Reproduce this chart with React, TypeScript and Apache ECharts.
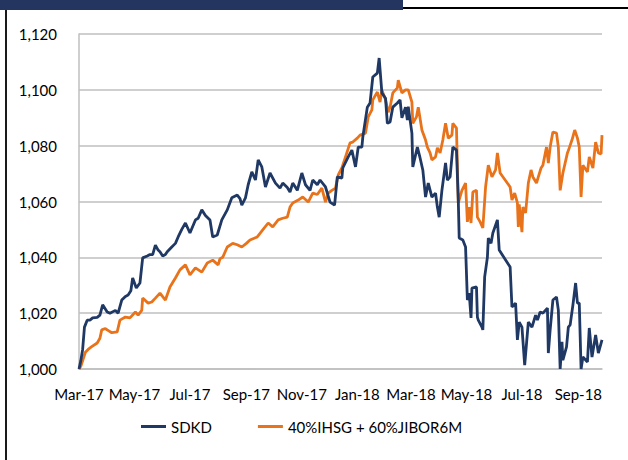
import React, { useEffect, useRef } from "react";
import * as echarts from "echarts";

// Start date of the index series (day offsets below are counted from it)
const START_DATE = "2017-03-01";
const END_DAY = 575;

const seriesNames = ["SDKD", "40%IHSG + 60%JIBOR6M"];

// [day offset from START_DATE, value]
const sdkd: [number, number][] = [
  [0,1000],[2,1003],[4,1007],[6,1015],[9,1017.5],[12,1017.5],[15,1018.3],[20,1018.5],[23,1019.3],[26,1023],
  [31,1020.4],[34,1020],[40,1021],[43,1020],[47,1024.7],[51,1026],[54,1026.5],[57,1028],[59,1032.6],[63,1029],
  [67,1030.8],[70,1039.8],[75,1040.5],[78,1041],[81,1041],[84,1044.4],[87,1042.6],[89,1042],[92,1040.5],[95,1041],
  [97,1042],[102,1043.7],[106,1045],[109,1047.3],[113,1050],[117,1052.3],[122,1048.7],[128,1053.4],[131,1054],[135,1057],
  [139,1055],[144,1053.4],[147,1047.3],[152,1048],[157,1053.4],[163,1057],[168,1061.3],[174,1062.3],[177,1061],[179,1058.7],
  [183,1061.3],[186,1066],[190,1070.6],[194,1067.7],[197,1074.9],[201,1072.4],[205,1065.2],[210,1070.2],[216,1066.6],[221,1064.8],
  [224,1066.6],[229,1065],[232,1063.4],[235,1066.6],[240,1064],[245,1070.2],[249,1066],[254,1064],[257,1067.7],[262,1066],
  [265,1067.7],[271,1065.2],[276,1059.8],[281,1058.7],[284,1068.8],[289,1068.4],[290,1072],[296,1076],[300,1078.4],[304,1072.4],
  [307,1079.5],[311,1079.5],[312,1083],[317,1093.8],[320,1095.3],[323,1104.6],[328,1106],[330,1111.4],[333,1098.9],[337,1097],
  [339,1088],[342,1088.5],[345,1093.8],[350,1095.3],[353,1096.4],[355,1090],[359,1093.8],[361,1089.2],[362,1094],[366,1084.5],
  [367,1072.4],[372,1079.5],[375,1075.6],[378,1071.3],[381,1061.6],[384,1066.6],[388,1061.6],[392,1063],[394,1058],[396,1054.4],
  [399,1064],[403,1073.8],[405,1067.7],[408,1068.8],[411,1079.5],[415,1078.4],[417,1060.5],[418,1046.9],[422,1046.2],[425,1043.7],
  [427,1024.7],[429,1027.2],[431,1018.3],[432,1029],[437,1029.4],[438,1018.6],[439,1017.5],[443,1015],[444,1014],[446,1033],
  [449,1040],[450,1046.9],[453,1045],[455,1048.7],[460,1053.4],[462,1042.6],[474,1036.5],[476,1022.2],[480,1023.6],[482,1010.4],
  [484,1016.8],[487,1015],[490,1001.4],[494,1016.8],[498,1015],[502,1019.3],[504,1017.5],[507,1020.4],[510,1020],[515,1021.8],
  [516,1005.7],[518,1014],[521,1024.7],[525,1025.8],[527,1021.1],[529,1000],[531,1009.7],[532,1003.2],[536,1007.9],[538,1015],
  [540,1015.8],[543,1022.9],[546,1030.8],[548,1023.6],[550,1023.6],[552,1000],[554,1004.3],[559,1002.5],[561,1014.7],[564,1004.3],
  [568,1012.2],[571,1005.7],[575,1010.4]
];

const benchmark: [number, number][] = [
  [0,1000],[2,1001],[7,1006],[10,1007],[14,1008],[20,1009.3],[23,1011],[25,1014],[29,1014.5],[31,1014],
  [36,1013],[42,1013.3],[45,1017.5],[51,1018.6],[56,1018.3],[62,1020.4],[65,1019.3],[69,1021],[70,1025.4],[76,1023.6],
  [80,1024],[84,1025.4],[89,1027.2],[95,1024.7],[100,1029.4],[106,1032.6],[111,1035.5],[117,1037.3],[122,1033.7],[128,1036.2],
  [135,1034.7],[141,1038],[147,1039],[153,1037.3],[155,1039.5],[158,1040],[163,1043.7],[169,1045],[174,1044.5],[179,1043.7],
  [184,1045],[188,1046.2],[196,1047.3],[202,1049.8],[208,1052.3],[213,1050.9],[219,1053.4],[224,1054],[229,1054.4],[232,1058],
  [235,1059.5],[241,1060.5],[246,1061.6],[252,1059.8],[257,1063],[262,1062.5],[267,1064.8],[271,1059.8],[274,1063],[278,1064],
  [282,1064.8],[285,1069.5],[289,1072],[293,1076],[298,1081],[301,1081.3],[306,1082.7],[309,1083.8],[315,1084.5],[318,1090.3],
  [322,1092.8],[323,1096.4],[328,1099.2],[331,1095.6],[333,1099.9],[337,1096.4],[340,1092],[342,1093.8],[345,1098.9],[350,1100.7],
  [351,1103.5],[355,1098.9],[359,1100],[362,1100],[366,1095.6],[367,1088],[371,1090.3],[373,1093.8],[377,1085.6],[381,1082],
  [383,1079.5],[386,1077.4],[388,1074.9],[392,1076],[394,1079.2],[397,1077.4],[400,1082],[403,1088],[406,1082.7],[410,1083.8],
  [411,1088],[415,1086.3],[417,1059.5],[421,1064],[425,1066.6],[427,1052.7],[429,1058],[431,1052.3],[433,1063.4],[437,1064],
  [438,1054.4],[441,1052.7],[444,1050.5],[447,1065.2],[450,1073],[454,1068.8],[458,1071.3],[460,1077.4],[463,1070.2],[474,1065.2],
  [476,1060.5],[479,1063],[482,1059.5],[483,1050.9],[484,1059],[487,1049],[488,1058],[491,1055.9],[494,1066.6],[497,1071.3],
  [499,1068.8],[503,1066.6],[505,1068.8],[508,1072],[510,1073],[514,1079.5],[516,1073.8],[518,1079.5],[521,1084.9],[525,1084.5],
  [527,1079.5],[529,1064],[532,1070.2],[537,1077.4],[539,1079.2],[542,1082],[545,1085.6],[548,1082.7],[550,1079.5],[552,1061.6],
  [554,1073],[559,1070.6],[561,1076],[565,1072],[568,1081.3],[571,1077.4],[574,1077],[575,1083.8]
];

const tickDates = [
  "2017-03-01","2017-05-01","2017-07-01","2017-09-01","2017-11-01",
  "2018-01-01","2018-03-01","2018-05-01","2018-07-01","2018-09-01"
];
const tickLabels = [
  "Mar-17","May-17","Jul-17","Sep-17","Nov-17",
  "Jan-18","Mar-18","May-18","Jul-18","Sep-18"
];

const yMin = 1000;
const yMax = 1120;
const yStep = 20;

const DAY_MS = 86400000;
const toTs = (s: string) => {
  const [y, m, d] = s.split("-").map(Number);
  return Date.UTC(y, m - 1, d);
};

export default function App() {
  const ref = useRef<HTMLDivElement>(null);

  useEffect(() => {
    if (!ref.current) return;
    const chart = echarts.init(ref.current, null, { renderer: "svg" });
    const start = toTs(START_DATE);
    const tickDays = tickDates.map((s) => Math.round((toTs(s) - start) / DAY_MS));
    const font = "Lato, 'Open Sans', sans-serif";

    chart.setOption({
      animation: false,
      backgroundColor: "#ffffff",
      textStyle: { fontFamily: font },
      grid: { left: 79, right: 26, top: 34, bottom: 91, containLabel: false },
      xAxis: {
        type: "value",
        min: 0,
        max: END_DAY,
        axisLine: { show: true, onZero: false, lineStyle: { color: "#bfbfbf", width: 1.5 } },
        axisTick: { show: false, customValues: tickDays },
        splitLine: { show: false },
        axisLabel: {
          customValues: tickDays,
          margin: 17,
          color: "#000000",
          fontSize: 15,
          fontFamily: font,
          hideOverlap: false,
          formatter: (val: number) => {
            const i = tickDays.indexOf(Math.round(val));
            return i >= 0 ? tickLabels[i] : "";
          },
        },
      },
      yAxis: {
        type: "value",
        min: yMin,
        max: yMax,
        interval: yStep,
        axisLine: { show: true, lineStyle: { color: "#bfbfbf", width: 1.5 } },
        axisTick: { show: false },
        splitLine: { show: true, lineStyle: { color: "#bfbfbf", width: 1.5 } },
        axisLabel: {
          margin: 22,
          color: "#000000",
          fontSize: 15,
          fontFamily: font,
          formatter: (v: number) => v.toLocaleString("en-US"),
        },
      },
      legend: {
        left: 136,
        top: 414,
        icon: "rect",
        itemWidth: 25,
        itemHeight: 3,
        itemGap: 46,
        textStyle: { color: "#000000", fontSize: 15, fontFamily: font },
        data: seriesNames,
      },
      series: [
        {
          name: seriesNames[0],
          type: "line",
          data: sdkd,
          showSymbol: false,
          symbol: "none",
          z: 3,
          lineStyle: { color: "#1F3864", width: 2.8 },
          itemStyle: { color: "#1F3864" },
        },
        {
          name: seriesNames[1],
          type: "line",
          data: benchmark,
          showSymbol: false,
          symbol: "none",
          z: 2,
          lineStyle: { color: "#E8731A", width: 2.8 },
          itemStyle: { color: "#E8731A" },
        },
      ],
      graphic: [
        { type: "rect", left: 0, top: 0, shape: { x: 0, y: 0, width: 403, height: 10 }, style: { fill: "#24355F" } },
        { type: "line", shape: { x1: 403, y1: 8, x2: 628, y2: 8 }, style: { stroke: "#000000", lineWidth: 2 } },
        { type: "line", shape: { x1: 6, y1: 10, x2: 6, y2: 460 }, style: { stroke: "#1a1a1a", lineWidth: 2 } },
      ],
    });
    return () => chart.dispose();
  }, []);

  return (
    <div
      ref={ref}
      style={{ position: "fixed", left: 0, top: 0, width: 628, height: 460, background: "#fff" }}
    />
  );
}
